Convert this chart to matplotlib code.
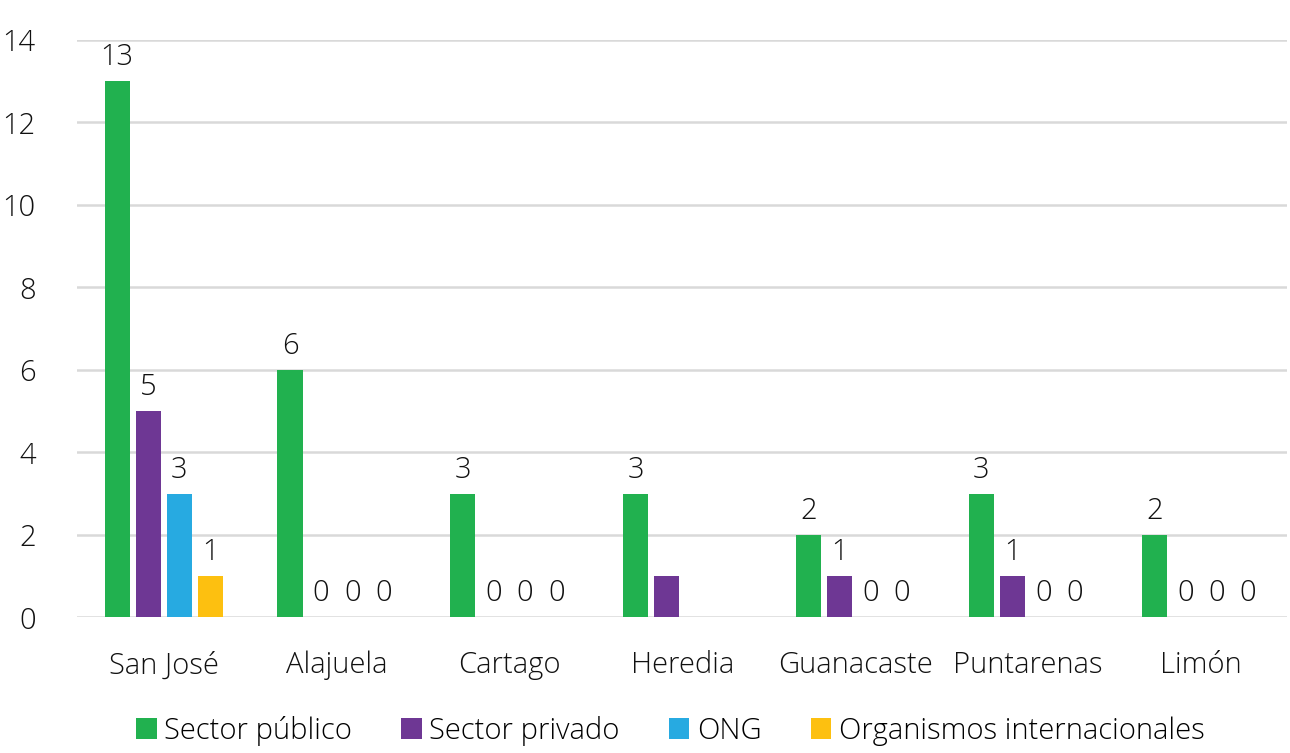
import numpy as np
import matplotlib.pyplot as plt

plt.rcParams['font.family'] = ['Open Sans', 'DejaVu Sans']
plt.rcParams['font.weight'] = 'light'

provincias = ['San José', 'Alajuela', 'Cartago', 'Heredia', 'Guanacaste', 'Puntarenas', 'Limón']
series = ['Sector público', 'Sector privado', 'ONG', 'Organismos internacionales']
sector_publico = [13, 6, 3, 3, 2, 3, 2]
sector_privado = [5, 0, 0, 1, 1, 1, 0]
ong = [3, 0, 0, np.nan, 0, 0, 0]
org_internacionales = [1, 0, 0, np.nan, 0, 0, 0]
colores = ['#21b14f', '#6e3794', '#27aae1', '#fdc010']

# Heredia: solo etiquetas para el sector público
mostrar_etiqueta = [
    [True] * 7,
    [True, True, True, False, True, True, True],
    [True, True, True, False, True, True, True],
    [True, True, True, False, True, True, True],
]

fig, ax = plt.subplots(figsize=(12.9, 7.53), dpi=100)
fig.subplots_adjust(left=0.06, right=0.998, top=0.947, bottom=0.18)

x = np.arange(len(provincias))
ancho = 0.145
paso = 0.18
datos = [sector_publico, sector_privado, ong, org_internacionales]
for i, (vals, nombre, color) in enumerate(zip(datos, series, colores)):
    pos = x + (i - 1.5) * paso
    vals = np.array(vals, dtype=float)
    ax.bar(pos, np.nan_to_num(vals), width=ancho, color=color, label=nombre, zorder=3)
    for p, v, m in zip(pos, vals, mostrar_etiqueta[i]):
        if np.isnan(v) or not m:
            continue
        ax.text(p, v + 0.22, f'{int(v)}', ha='center', va='bottom', fontsize=21, color='#111111')

ax.set_ylim(0, 14)
ax.set_xlim(-0.5, len(provincias) - 0.5)
ax.set_yticks(range(0, 15, 2))
ax.set_xticks(x)
ax.set_xticklabels(provincias)
ax.tick_params(axis='both', length=0, labelsize=21, colors='#111111')
ax.tick_params(axis='y', pad=30)
ax.tick_params(axis='x', pad=24)
ax.grid(axis='y', color='#d9d9d9', linewidth=1.8, zorder=0)
for s in ax.spines.values():
    s.set_visible(False)

ax.legend(loc='upper center', bbox_to_anchor=(0.49, -0.125), ncol=4, frameon=False,
          fontsize=21, handlelength=0.7, handleheight=0.7, handletextpad=0.25,
          columnspacing=1.7)

plt.savefig('out.png')
